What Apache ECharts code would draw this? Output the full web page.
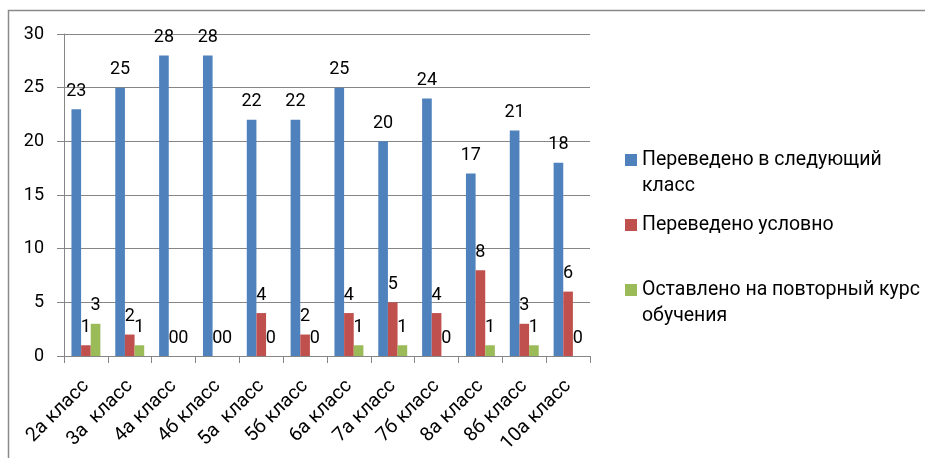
<!DOCTYPE html>
<html><head><meta charset="utf-8">
<script src="https://cdn.jsdelivr.net/npm/echarts@6/dist/echarts.min.js"></script>
<style>html,body{margin:0;padding:0;background:#fff}#c{width:925px;height:458px}</style>
</head><body><div id="c"></div>
<script>
const categories = ['2а класс','3а  класс','4а класс','4б класс','5а  класс','5б класс','6а класс','7а класс','7б класс','8а класс','8б класс','10а класс'];
const seriesNames = ['Переведено в следующий класс','Переведено условно','Оставлено на повторный курс обучения'];
const promoted = [23,25,28,28,22,22,25,20,24,17,21,18];
const conditional = [1,2,0,0,4,2,4,5,4,8,3,6];
const repeated = [3,1,0,0,0,0,1,1,0,1,1,0];
const yTicks = {min:0, max:30, interval:5};
const legendLabels = {
  'Переведено в следующий класс':'\nПереведено в следующий\nкласс',
  'Переведено условно':'Переведено условно',
  'Оставлено на повторный курс обучения':'\nОставлено на повторный курс\nобучения'
};
const FONT = 'Roboto';
const colors = ['#4F81BD','#C0504D','#9BBB59'];
const chart = echarts.init(document.getElementById('c'));
const label = {show:true, position:'top', distance:9, color:'#000', fontSize:18, fontFamily:FONT};
chart.setOption({
  animation:false,
  color:colors,
  graphic:[{type:'rect', shape:{x:8.5,y:10.5,width:940,height:470}, style:{fill:'none', stroke:'#8a8a8a', lineWidth:1.5}, silent:true}],
  grid:{left:64, top:34, right:335, bottom:102, containLabel:false},
  legend:{
    orient:'vertical', left:620, top:116, itemWidth:12, itemHeight:12, itemGap:13,
    icon:'rect',
    data:seriesNames,
    formatter:n=>legendLabels[n],
    textStyle:{fontFamily:FONT, fontSize:19.5, color:'#000', lineHeight:26}
  },
  xAxis:{
    type:'category', data:categories,
    axisLine:{lineStyle:{color:'#868686', width:1}},
    axisTick:{show:true, length:7, lineStyle:{color:'#868686'}},
    axisLabel:{rotate:45, fontSize:19.5, fontFamily:FONT, color:'#000', margin:27, interval:0}
  },
  yAxis:{
    type:'value', min:yTicks.min, max:yTicks.max, interval:yTicks.interval,
    axisLine:{show:true, lineStyle:{color:'#868686'}},
    axisTick:{show:true, length:7, lineStyle:{color:'#868686'}},
    splitLine:{lineStyle:{color:'#868686', width:1}},
    axisLabel:{fontSize:18, fontFamily:FONT, color:'#000', margin:20}
  },
  series:[
    {name:seriesNames[0], type:'bar', data:promoted, barGap:'0%', barCategoryGap:'34%', label},
    {name:seriesNames[1], type:'bar', data:conditional, barGap:'0%', barCategoryGap:'34%', label},
    {name:seriesNames[2], type:'bar', data:repeated, barGap:'0%', barCategoryGap:'34%', label}
  ]
});
</script></body></html>
